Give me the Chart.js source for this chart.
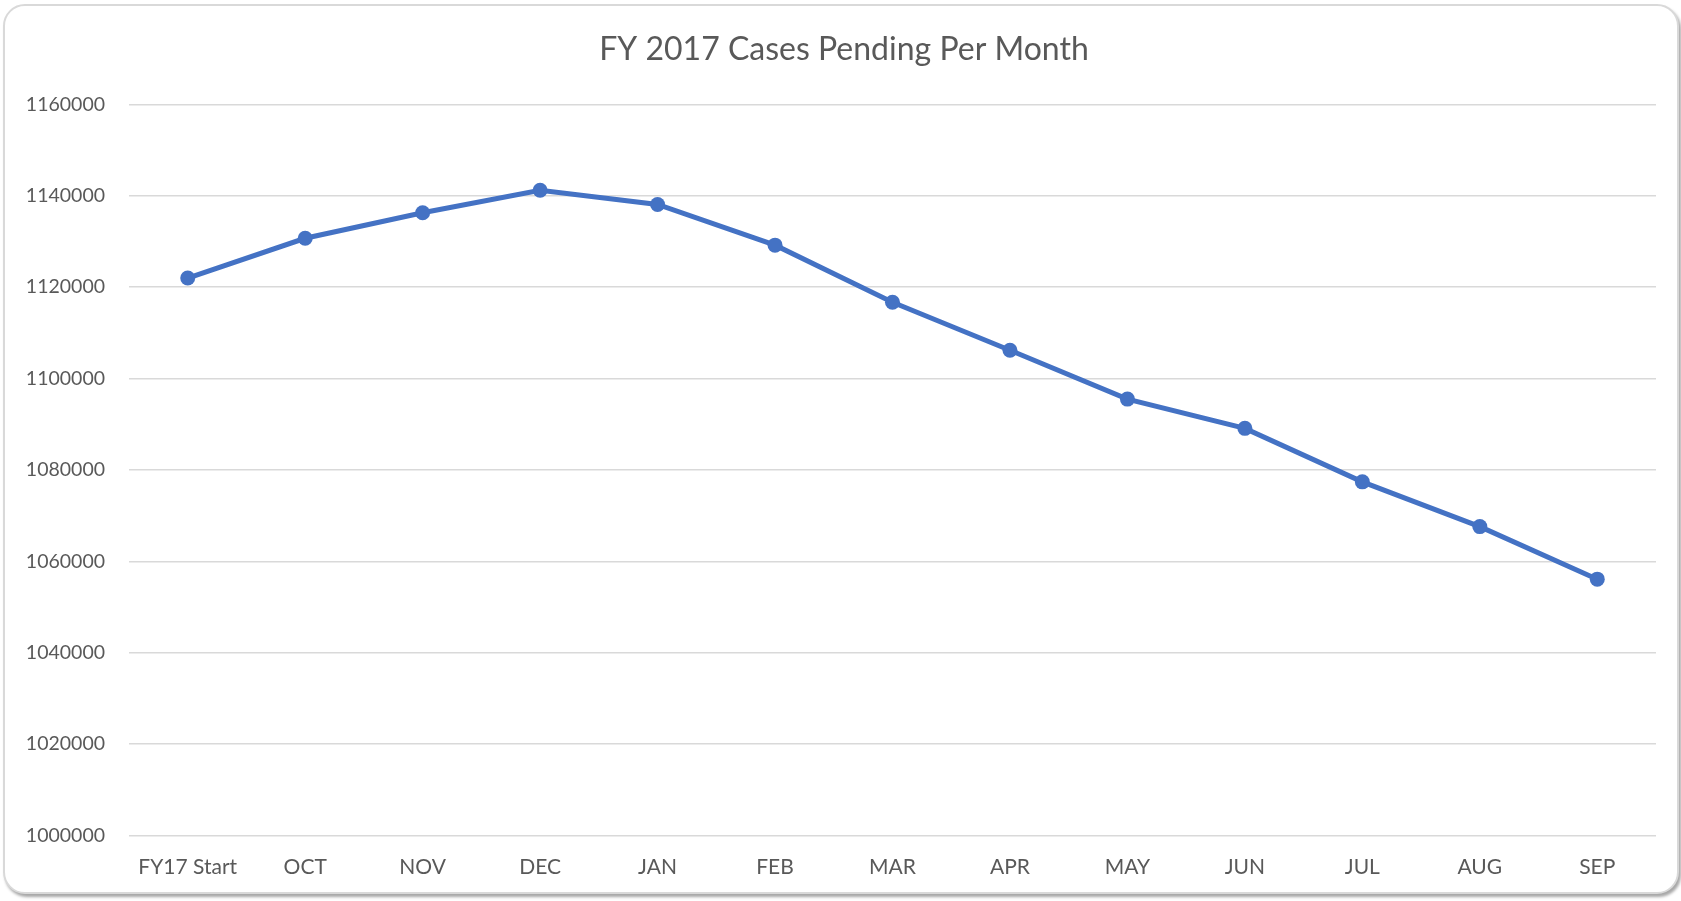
<!DOCTYPE html>
<html>
<head>
<meta charset="utf-8">
<script src="https://cdn.jsdelivr.net/npm/chart.js@4/dist/chart.umd.min.js"></script>
<style>
  html, body { margin: 0; padding: 0; background: #ffffff; width: 1681px; height: 901px; overflow: hidden; }
  #frame { position: absolute; left: 3px; top: 4px; width: 1672px; height: 886px;
           border: 2px solid #d9d9d9; border-radius: 22px; background: #fff;
           box-shadow: 2px 3px 3px rgba(0,0,0,0.35); }
  #wrap { position: absolute; left: 0; top: 0; width: 1681px; height: 901px; }
</style>
</head>
<body>
<div id="frame"></div>
<div id="wrap"><canvas id="c" width="1681" height="901"></canvas></div>
<script>
const chartTitle = 'FY 2017 Cases Pending Per Month';
const categories = ['FY17 Start', 'OCT', 'NOV', 'DEC', 'JAN', 'FEB', 'MAR', 'APR', 'MAY', 'JUN', 'JUL', 'AUG', 'SEP'];
const casesPending = [1122000, 1130700, 1136300, 1141200, 1138100, 1129200, 1116700, 1106200, 1095500, 1089100, 1077400, 1067600, 1056100];
const yMin = 1000000;
const yMax = 1160000;
const yStep = 20000;

const textColor = '#595959';
const fontFamily = 'Lato, Carlito, Calibri, sans-serif';

const titleShift = {
  id: 'titleShift',
  afterLayout(chart) {
    const t = chart.titleBlock;
    if (t) { t.left += 16; t.right += 16; }
  }
};

new Chart(document.getElementById('c'), {
  type: 'line',
  data: {
    labels: categories,
    datasets: [{
      label: 'Cases Pending',
      data: casesPending,
      borderColor: '#4472C4',
      backgroundColor: '#4472C4',
      borderWidth: 5,
      pointRadius: 7.5,
      pointBorderWidth: 0,
      pointHoverRadius: 7.5,
      tension: 0,
      fill: false
    }]
  },
  plugins: [titleShift],
  options: {
    responsive: false,
    animation: false,
    devicePixelRatio: 1,
    layout: { padding: { left: 0, right: 25, top: 0, bottom: 0 } },
    plugins: {
      legend: { display: false },
      tooltip: { enabled: false },
      title: {
        display: true,
        text: chartTitle,
        color: textColor,
        font: { family: fontFamily, size: 32, weight: 'normal' },
        padding: { top: 30, bottom: 36 }
      }
    },
    scales: {
      x: {
        offset: true,
        grid: { display: false, drawTicks: false, offset: true },
        border: { display: false },
        ticks: {
          color: textColor,
          font: { family: fontFamily, size: 21 },
          padding: 19,
          maxRotation: 0,
          autoSkip: false
        },
        afterFit: (s) => { s.height = 65.5; }
      },
      y: {
        min: yMin,
        max: yMax,
        grid: { color: '#d9d9d9', lineWidth: 1.5, drawTicks: false },
        border: { display: false },
        ticks: {
          stepSize: yStep,
          color: textColor,
          font: { family: fontFamily, size: 19.5 },
          padding: 24,
          callback: (v) => String(v)
        },
        afterFit: (s) => { s.width = 129; }
      }
    }
  }
});
</script>
</body>
</html>
